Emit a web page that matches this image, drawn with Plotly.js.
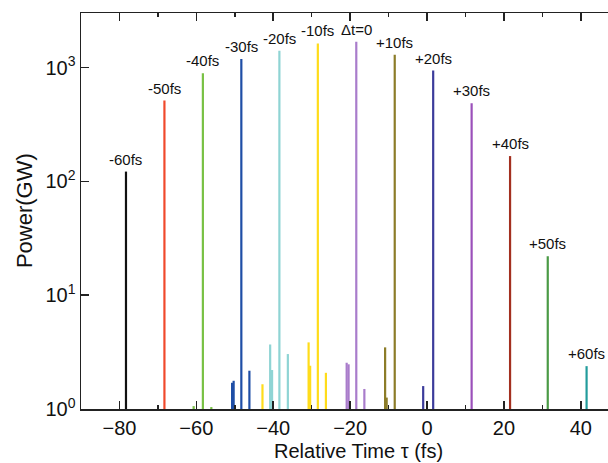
<!DOCTYPE html>
<html>
<head>
<meta charset="utf-8">
<script src="https://cdn.plot.ly/plotly-3.0.1.min.js"></script>
<style>html,body{margin:0;padding:0;background:#fff;}#chart{width:608px;height:463px;}</style>
</head>
<body>
<div id="chart"></div>
<script>
// Pulse labels (delay), main peak time (fs) and peak power (GW)
const labels = ["-60fs", "-50fs", "-40fs", "-30fs", "-20fs", "-10fs", "\u0394t=0", "+10fs", "+20fs", "+30fs", "+40fs", "+50fs", "+60fs"];
const peakTimes = [-78.3, -68.3, -58.3, -48.3, -38.4, -28.4, -18.4, -8.4, 1.6, 11.6, 21.6, 31.4, 41.5];
const peakPowers = [122, 513, 891, 1192, 1410, 1633, 1690, 1300, 942, 486, 167, 22, 2.38];
// Small satellite pulses belonging to each delay
const satTimes = [[], [], [-60.7, -56.1], [-50.7, -50.3, -46.2], [-40.8, -40.3, -36.2], [-42.8, -30.8, -30.4, -26.3], [-20.9, -20.4, -16.3], [-10.9, -10.5], [-1.0], [], [], [], []];
const satPowers = [[], [], [1.06, 1.04], [1.70, 1.77, 2.17], [3.69, 2.20, 3.04], [1.65, 3.85, 2.40, 2.08], [2.55, 2.47, 1.50], [3.48, 1.26], [1.59], [], [], [], []];
const baseline = 1;
const colors = ["#111111", "#f0492c", "#78c144", "#1f4ea6", "#8fd4d4", "#ffdc1a", "#a97ccb", "#8c7c28", "#3c3c9b", "#9b50ba", "#a3301f", "#4a9a45", "#229c9c"];
const yTickVals = [1, 10, 100, 1000];
const yTickText = ["10<sup>0</sup>", "10<sup>1</sup>", "10<sup>2</sup>", "10<sup>3</sup>"];

const FONT = "Liberation Sans, Arial, Helvetica, sans-serif";
const traces = [];
const annotations = [];
for (let i = 0; i < labels.length; i++) {
  const xs = [], ys = [];
  const ts = [peakTimes[i]].concat(satTimes[i]);
  const ps = [peakPowers[i]].concat(satPowers[i]);
  for (let k = 0; k < ts.length; k++) {
    xs.push(ts[k], ts[k], null);
    ys.push(baseline, ps[k], null);
  }
  traces.push({x: xs, y: ys, type: "scatter", mode: "lines", line: {color: colors[i], width: 2.2}, hoverinfo: "skip", showlegend: false});
  annotations.push({x: peakTimes[i], y: Math.log10(peakPowers[i]), xref: "x", yref: "y", text: labels[i], showarrow: false, xanchor: "center", yanchor: "bottom", yshift: 2, font: {family: FONT, size: 15, color: "#111"}});
}
annotations.push({x: 0.5275, y: -0.106, xref: "paper", yref: "paper", text: "Relative Time \u03c4 (fs)", showarrow: false, xanchor: "center", yanchor: "middle", font: {family: FONT, size: 20, color: "#111"}});
annotations.push({x: -0.108, y: 0.5, xref: "paper", yref: "paper", text: "Power(GW)", textangle: -90, showarrow: false, xanchor: "center", yanchor: "middle", font: {family: FONT, size: 22, color: "#111"}});

const layout = {
  width: 608, height: 463,
  margin: {l: 81, r: 0, t: 13, b: 54, pad: 0},
  paper_bgcolor: "#fff", plot_bgcolor: "#fff",
  font: {family: FONT, color: "#111"},
  showlegend: false,
  xaxis: {
    range: [-90, 47.07], dtick: 20, tick0: 0,
    ticks: "inside", ticklen: 8, tickwidth: 1.5, tickcolor: "#222",
    minor: {dtick: 10, tick0: 0, ticks: "inside", ticklen: 4, tickwidth: 1.5, tickcolor: "#222"},
    showline: true, linecolor: "#222", linewidth: 1.5, mirror: "ticks",
    showgrid: false, zeroline: false,
    tickfont: {family: FONT, size: 20, color: "#111"}
  },
  yaxis: {
    type: "log", range: [0, 3.48],
    tickvals: yTickVals, ticktext: yTickText,
    ticks: "inside", ticklen: 8, tickwidth: 1.5, tickcolor: "#222",
    showline: true, linecolor: "#222", linewidth: 1.5, mirror: false,
    showgrid: false, zeroline: false,
    tickfont: {family: FONT, size: 20, color: "#111"}
  },
  annotations: annotations
};
Plotly.newPlot("chart", traces, layout, {displayModeBar: false, staticPlot: true});
</script>
</body>
</html>
